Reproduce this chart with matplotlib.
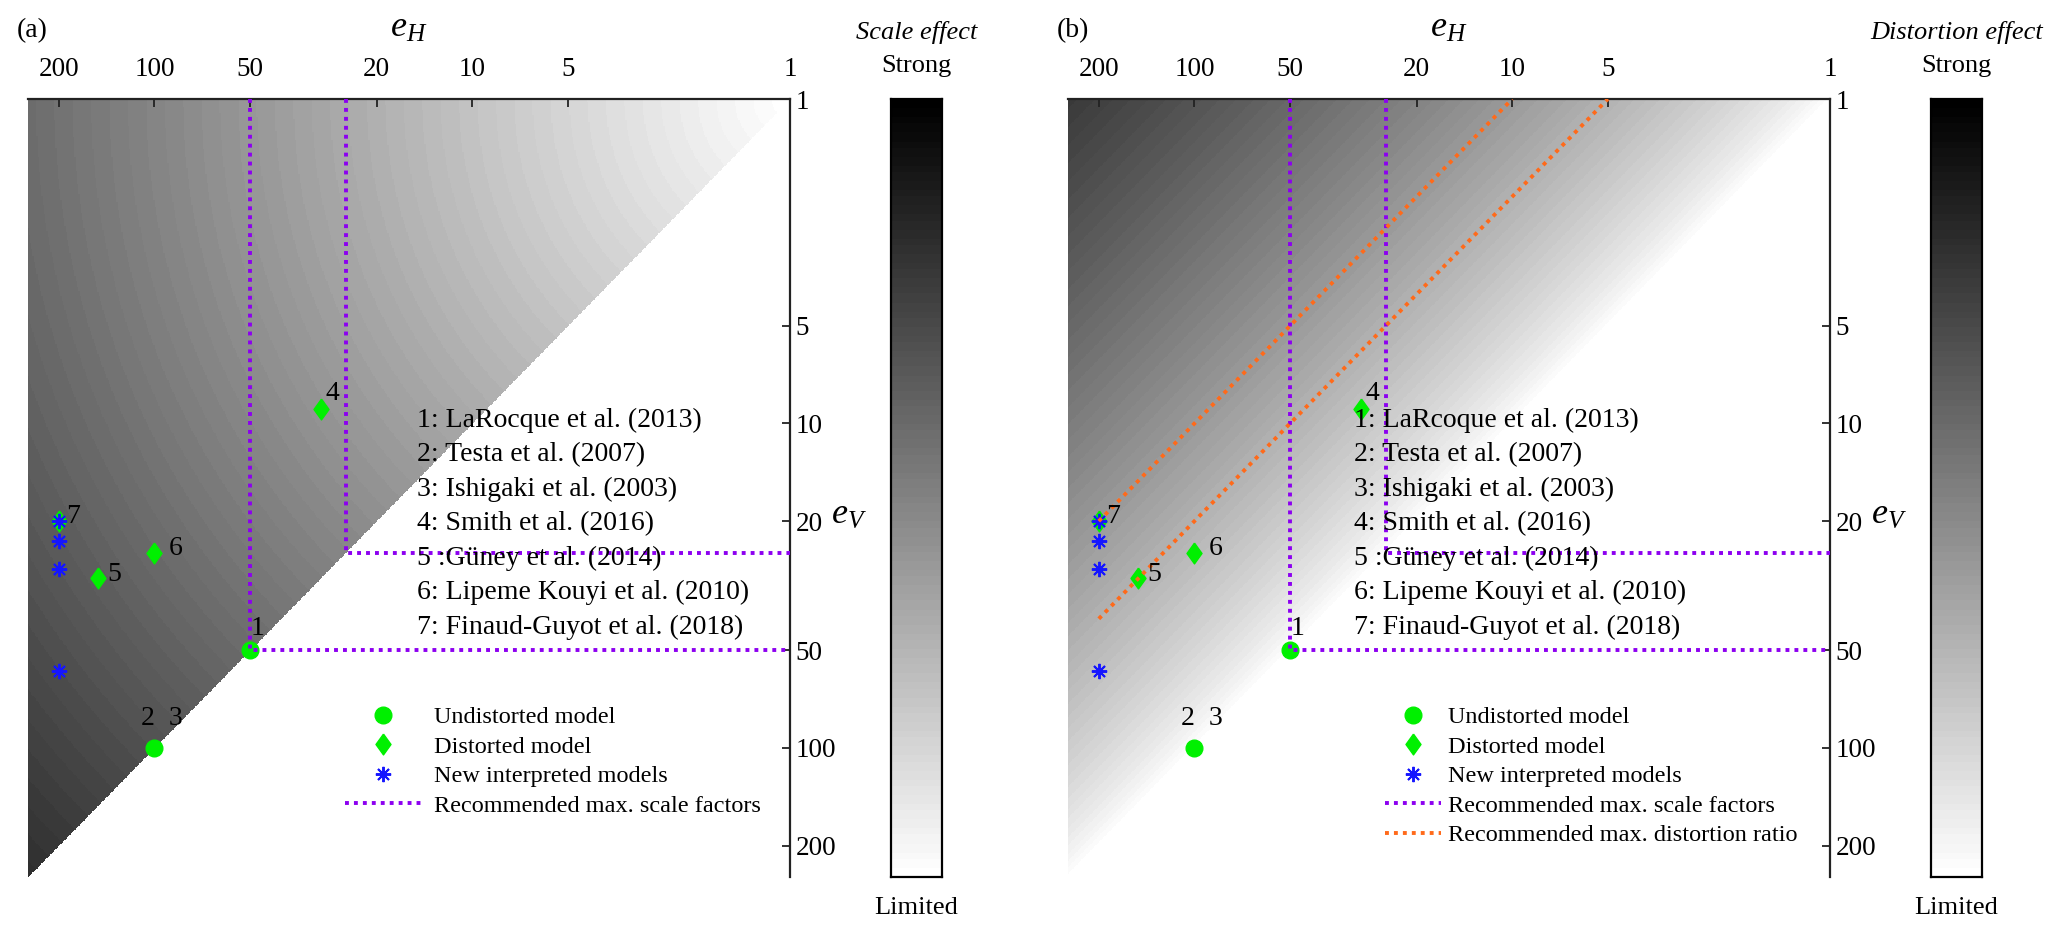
import numpy as np
import matplotlib
matplotlib.use('Agg')
import matplotlib.pyplot as plt
from matplotlib.lines import Line2D
from matplotlib.ticker import NullLocator

plt.rcParams['font.family'] = ['Liberation Serif', 'DejaVu Serif']
plt.rcParams['mathtext.fontset'] = 'custom'
plt.rcParams['mathtext.rm'] = 'Liberation Serif'
plt.rcParams['mathtext.it'] = 'Liberation Serif:italic'

# ---------------- data ----------------
tick_values = [200, 100, 50, 20, 10, 5, 1]
axis_max = 250

undist_labels = ['1', '2  3']
undist_eH = [50, 100]
undist_eV = [50, 100]

dist_labels = ['4', '5', '6', '7']
dist_eH = [30, 150, 100, 200]
dist_eV = [9, 30, 25, 20]

new_eH = [200, 200, 200, 200]
new_eV = [20, 23, 28, 58]

scale_limits = [50, 25]          # recommended max scale factors
distortion_limits = [10, 5]      # recommended max distortion ratios
distortion_start_eH = 200

refs_a = ['1: LaRocque et al. (2013)', '2: Testa et al. (2007)', '3: Ishigaki et al. (2003)',
          '4: Smith et al. (2016)', '5 :Güney et al. (2014)', '6: Lipeme Kouyi et al. (2010)',
          '7: Finaud-Guyot et al. (2018)']
refs_b = ['1: LaRcoque et al. (2013)'] + refs_a[1:]

legend_labels = ['Undistorted model', 'Distorted model', 'New interpreted models',
                 'Recommended max. scale factors', 'Recommended max. distortion ratio']

# ---------------- styles ----------------
GREEN = '#00F000'
BLUE = '#1515FF'
PURPLE = '#8C00F0'
ORANGE = '#FF6A1A'
DOT = (0, (1, 1.3))
DIAMOND = [(0, 1), (0.72, 0), (0, -1), (-0.72, 0), (0, 1)]
STAR = (8, 2, 0)
undist_offsets = [(5.5, 15.5), (5, 21.5)]
dist_offsets = [(8.5, 11), (11.5, 3), (15.5, 3), (10, 3.5)]

W, H = 2067, 935
fig = plt.figure(figsize=(W / 100, H / 100), dpi=100)

def fx(px):
    return px / W

def fy(py):
    return 1 - py / H

ax_top, ax_bot = 99, 877
panels = [
    dict(left=28, cb=891, tag='(a)', title='Scale effect', refs=refs_a, ref_x=0.510,
         leg_x=0.416, hl=3.15, htp=0.5, mode='scale'),
    dict(left=1068, cb=1931, tag='(b)', title='Distortion effect', refs=refs_b, ref_x=0.375,
         leg_x=0.416, hl=2.3, htp=0.3, mode='distortion'),
]

lg = np.linspace(0, np.log10(axis_max), 600)
LX, LY = np.meshgrid(lg, lg)
EH, EV = 10 ** LX, 10 ** LY

for p in panels:
    ax = fig.add_axes([fx(p['left']), fy(ax_bot), fx(762), (ax_bot - ax_top) / H])
    if p['mode'] == 'scale':
        Z = 0.24 * np.sqrt(LX ** 2 + LY ** 2)
        Z = np.ma.masked_where(LY > LX, Z)
    else:
        R = np.clip(LX - LY, 0, None)
        Z = 0.40 * R ** 0.75
    ax.pcolormesh(EH, EV, Z, cmap=plt.get_cmap('gray_r', 72), vmin=0, vmax=1,
                  shading='nearest', rasterized=True, zorder=0)
    ax.set_xscale('log')
    ax.set_yscale('log')
    ax.set_xlim(axis_max, 1)
    ax.set_ylim(axis_max, 1)

    # markers
    ax.plot(undist_eH, undist_eV, 'o', color=GREEN, ms=12, mec=GREEN, zorder=3)
    ax.plot(dist_eH, dist_eV, marker=DIAMOND, ls='none', color=GREEN, ms=15, mec=GREEN,
            zorder=3)
    ax.plot(new_eH, new_eV, marker=STAR, ls='none', color=BLUE, ms=11, mew=1.4, zorder=4)
    for lab, x, y, off in zip(undist_labels, undist_eH, undist_eV, undist_offsets):
        ax.annotate(lab, (x, y), xytext=off, textcoords='offset points', ha='center',
                    va='center', fontsize=20, zorder=6)
    for lab, x, y, off in zip(dist_labels, dist_eH, dist_eV, dist_offsets):
        ax.annotate(lab, (x, y), xytext=off, textcoords='offset points', ha='center',
                    va='center', fontsize=20, zorder=6)

    # recommended lines
    for s in scale_limits:
        ax.plot([s, s, 1], [1, s, s], color=PURPLE, lw=2.8, ls=DOT, zorder=5)
    if p['mode'] == 'distortion':
        for r in distortion_limits:
            ax.plot([distortion_start_eH, r], [distortion_start_eH / r, 1], color=ORANGE,
                    lw=2.8, ls=DOT, zorder=5)

    # reference list
    for i, t in enumerate(p['refs']):
        ax.text(p['ref_x'], 1 - (420 - ax_top + 34.5 * i) / (ax_bot - ax_top), t,
                transform=ax.transAxes, fontsize=20, ha='left', va='center', zorder=6)

    # legend
    handles = [
        Line2D([], [], ls='none', marker='o', color=GREEN, ms=12),
        Line2D([], [], ls='none', marker=DIAMOND, color=GREEN, ms=15),
        Line2D([], [], ls='none', marker=STAR, color=BLUE, ms=11, mew=1.4),
        Line2D([], [], color=PURPLE, lw=2.8, ls=DOT),
    ]
    labels = legend_labels[:4]
    if p['mode'] == 'distortion':
        handles.append(Line2D([], [], color=ORANGE, lw=2.8, ls=DOT))
        labels = legend_labels[:5]
    ytop = 1 - (706 - ax_top) / (ax_bot - ax_top)
    ax.legend(handles, labels, loc='upper left', bbox_to_anchor=(p['leg_x'], ytop),
              frameon=False, fontsize=17.5, borderpad=0, borderaxespad=0,
              handlelength=p['hl'], handletextpad=p['htp'], labelspacing=0.31)

    # axes styling
    for side in ['left', 'bottom']:
        ax.spines[side].set_visible(False)
    for side in ['top', 'right']:
        ax.spines[side].set_linewidth(1.6)
        ax.spines[side].set_color('#222222')
    ax.xaxis.tick_top()
    ax.yaxis.tick_right()
    ax.set_xticks(tick_values)
    ax.set_xticklabels([str(v) for v in tick_values])
    ax.set_yticks(tick_values)
    ax.set_yticklabels([str(v) for v in tick_values])
    ax.xaxis.set_minor_locator(NullLocator())
    ax.yaxis.set_minor_locator(NullLocator())
    ax.tick_params(direction='in', length=6, width=1.3, labelsize=19.5,
                   colors='#222222', labelcolor='black')
    ax.tick_params(axis='x', pad=12)
    ax.tick_params(axis='y', pad=4)
    ax.xaxis.set_label_position('top')
    ax.set_xlabel('$e_H$', fontsize=26, labelpad=15)
    ax.yaxis.set_label_position('right')
    ax.set_ylabel('$e_V$', fontsize=26, rotation=0, ha='left', va='center')
    ax.yaxis.set_label_coords(1.054, 1 - (515 - ax_top) / (ax_bot - ax_top))

    # colorbar
    cax = fig.add_axes([fx(p['cb']), fy(ax_bot), fx(51), (ax_bot - ax_top) / H])
    cax.imshow(np.linspace(0, 1, 256)[:, None], cmap=plt.get_cmap('gray', 96),
               aspect='auto', extent=(0, 1, 0, 1))
    cax.set_xticks([])
    cax.set_yticks([])
    for sp in cax.spines.values():
        sp.set_linewidth(1.6)
    cx = fx(p['cb'] + 25.5)
    fig.text(cx, fy(33), p['title'], style='italic', fontsize=19, ha='center', va='center')
    fig.text(cx, fy(66), 'Strong', fontsize=19, ha='center', va='center')
    fig.text(cx, fy(908), 'Limited', fontsize=19, ha='center', va='center')
    fig.text(fx(p['left'] - 11), fy(31), p['tag'], fontsize=20, ha='left', va='center')

fig.savefig('out.png', dpi=100)
